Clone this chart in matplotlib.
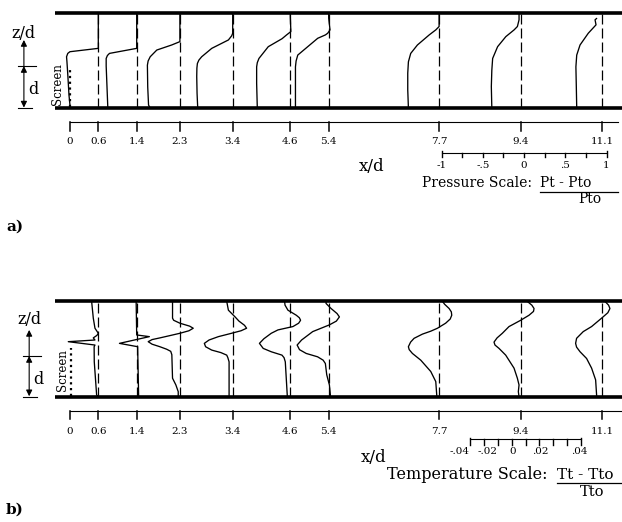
import numpy as np
import matplotlib as mpl
mpl.use('Agg')
import matplotlib.pyplot as plt

plt.rcParams['font.family'] = 'DejaVu Serif'

# ---------------- data ----------------
# measuring stations (x/d) and bottom axis labels
stations = [0.6, 1.4, 2.3, 3.4, 4.6, 5.4, 7.7, 9.4, 11.1]
tick_x = [0, 0.6, 1.4, 2.3, 3.4, 4.6, 5.4, 7.7, 9.4, 11.1]
tick_lab = ['0', '0.6', '1.4', '2.3', '3.4', '4.6', '5.4', '7.7', '9.4', '11.1']

# a) total pressure profiles (Pt - Pto)/Pto against z/d
p_z = [
    [0, 0.3, 0.8, 1.1, 1.22, 1.30, 1.34, 1.42, 2.27],
    [0, 0.5, 1.0, 1.18, 1.25, 1.30, 1.42, 2.27],
    [0, 0.07, 0.5, 1.02, 1.12, 1.22, 1.38, 1.5, 1.58, 2.27],
    [0, 0.35, 0.75, 0.95, 1.06, 1.14, 1.22, 1.42, 1.62, 1.72, 1.78, 2.27],
    [0, 0.59, 0.98, 1.08, 1.18, 1.46, 1.65, 1.74, 1.82, 2.17, 2.27],
    [0, 0.51, 0.98, 1.12, 1.26, 1.66, 1.74, 1.78, 1.86, 2.14, 2.27],
    [0, 0.43, 0.83, 1.1, 1.3, 1.5, 1.74, 1.86, 1.94, 2.27],
    [0, 0.51, 0.9, 1.18, 1.46, 1.7, 1.86, 1.94, 2.1, 2.27],
    [0, 0.51, 0.98, 1.26, 1.5, 1.78, 1.98, 2.1, 2.13],
]
p_v = [
    [-0.34, -0.355, -0.37, -0.38, -0.385, -0.37, -0.344, 0, 0],
    [-0.35, -0.36, -0.37, -0.37, -0.355, -0.33, 0, 0],
    [-0.36, -0.38, -0.39, -0.394, -0.385, -0.36, -0.28, -0.1, 0, 0],
    [-0.424, -0.432, -0.436, -0.434, -0.428, -0.41, -0.376, -0.254, -0.052, -0.012, 0, 0],
    [-0.40, -0.408, -0.408, -0.40, -0.38, -0.267, -0.1, -0.045, 0.007, 0, 0],
    [-0.403, -0.403, -0.403, -0.395, -0.375, -0.133, -0.04, -0.012, 0.016, 0, 0],
    [-0.372, -0.38, -0.38, -0.372, -0.344, -0.263, -0.12, -0.04, 0, 0],
    [-0.35, -0.356, -0.35, -0.34, -0.28, -0.18, -0.08, -0.04, -0.02, -0.02],
    [-0.31, -0.315, -0.32, -0.31, -0.27, -0.17, -0.076, -0.088, -0.07],
]

# b) total temperature profiles (Tt - Tto)/Tto against z/d
t_z = [
    [0, 0.04, 0.83, 1.19, 1.23, 1.31, 1.35, 1.40, 1.46, 1.51, 1.63, 1.87, 2.27],
    [0, 1.15, 1.19, 1.27, 1.43, 1.47, 2.27],
    [0, 0.12, 0.28, 0.44, 1.0, 1.08, 1.13, 1.19, 1.25, 1.31, 1.36, 1.40, 1.46, 1.51,
     1.57, 1.63, 1.68, 1.75, 1.82, 1.87, 2.27],
    [0, 0.83, 0.93, 0.99, 1.05, 1.11, 1.19, 1.27, 1.35, 1.43, 1.50, 1.57, 1.63, 1.70,
     1.80, 1.90, 2.06, 2.27],
    [0, 0.04, 0.83, 0.93, 0.99, 1.07, 1.15, 1.27, 1.38, 1.51, 1.59, 1.67, 1.75, 1.82,
     1.88, 1.94, 2.06, 2.18, 2.27],
    [0, 0.04, 0.28, 0.52, 0.79, 0.87, 0.95, 1.03, 1.12, 1.23, 1.35, 1.45, 1.55, 1.63,
     1.71, 1.80, 1.90, 1.98, 2.10, 2.22, 2.27],
    [0, 0.04, 0.36, 0.60, 0.87, 1.03, 1.12, 1.19, 1.30, 1.39, 1.49, 1.56, 1.63, 1.75,
     1.85, 1.94, 2.02, 2.10, 2.20, 2.27],
    [0, 0.12, 0.28, 0.44, 0.68, 0.99, 1.15, 1.23, 1.30, 1.40, 1.51, 1.67, 1.82, 1.94,
     2.03, 2.10, 2.18, 2.27],
    [0, 0.04, 0.40, 0.68, 0.91, 1.07, 1.18, 1.27, 1.39, 1.55, 1.67, 1.87, 2.0, 2.10,
     2.18, 2.27],
]
t_v = [
    [0, -0.0012, -0.0029, -0.003, -0.0024, -0.0216, -0.0024, -0.0036, -0.001, 0, -0.0024,
     -0.0036, -0.0048],
    [0.0014, 0.0007, 0.0007, -0.0124, 0.0091, 0, -0.0004],
    [-0.0012, -0.0012, -0.0029, -0.0053, -0.0058, -0.0066, -0.0095, -0.0144, -0.0200,
     -0.0228, -0.0200, -0.0144, -0.0065, 0.0, 0.0065, 0.0096, 0.0070, 0.0, -0.0045,
     -0.0053, -0.0053],
    [-0.0026, -0.0026, -0.0035, -0.0043, -0.0085, -0.0151, -0.0195, -0.0204, -0.0170,
     -0.0103, -0.0020, 0.0060, 0.0100, 0.0085, 0.0045, 0.0017, -0.0031, -0.0043],
    [-0.0022, -0.0022, -0.0036, -0.0045, -0.0060, -0.0137, -0.0195, -0.0222, -0.0190,
     -0.0137, -0.0089, 0.0019, 0.0060, 0.0074, 0.0065, 0.0043, -0.0017, -0.0038, -0.0041],
    [0.0012, 0.0012, 0.0005, -0.0014, -0.0024, -0.0040, -0.0080, -0.0162, -0.0210, -0.0227,
     -0.0195, -0.0155, -0.0115, -0.0055, 0.0005, 0.0055, 0.0077, 0.0060, 0.0017, -0.0019,
     -0.0019],
    [-0.0017, -0.0017, -0.0024, -0.0060, -0.0132, -0.0192, -0.0215, -0.0221, -0.0205,
     -0.0180, -0.0120, -0.0060, -0.0012, 0.0047, 0.0080, 0.0091, 0.0088, 0.0072, 0.0040,
     0.0024],
    [-0.0012, -0.0017, -0.0012, -0.0024, -0.0048, -0.0108, -0.0156, -0.0185, -0.0192,
     -0.0170, -0.0132, -0.0084, 0.0, 0.0060, 0.0092, 0.0096, 0.0080, 0.0047],
    [-0.0041, -0.0041, -0.0048, -0.0077, -0.0113, -0.0160, -0.0185, -0.0192, -0.0185,
     -0.0137, -0.0077, -0.0005, 0.0040, 0.0055, 0.0045, 0.0019],
]

# scale bars
p_ticks = [-1, -0.75, -0.5, -0.25, 0, 0.25, 0.5, 0.75, 1]
p_lab_val = [-1, -0.5, 0, 0.5, 1]
p_lab = ['-1', '-.5', '0', '.5', '1']
t_ticks = [-0.04, -0.03, -0.02, -0.01, 0, 0.01, 0.02, 0.03, 0.04]
t_lab_val = [-0.04, -0.02, 0, 0.02, 0.04]
t_lab = ['-.04', '-.02', '0', '.02', '.04']

# ---------------- layout ----------------
H = 2.27                 # channel height, z/d
X0, XPX = 69.5, 48.      # pixel of x/d=0, pixels per x/d
ZPX = 42.                # pixels per z/d
p_scale = 82.5 / XPX     # x/d per unit of pressure ratio
t_scale = 1390. / XPX    # x/d per unit of temperature ratio
lw_wall, lw_prof, lw_thin = 2.6, 0.95, 0.8


def draw_panel(ax, zz, vv, vscale, lay):
    ax.set_xlim(-X0 / XPX, (622 - X0) / XPX)
    ax.set_ylim(lay['zlo'], lay['zhi'])
    ax.axis('off')

    # channel walls
    for zw in (0, H):
        ax.plot([lay['wall_x0'], 12], [zw, zw], '-', color='k', lw=lw_wall,
                solid_capstyle='butt', zorder=5)

    # screen
    ax.plot([lay['scr_x'], lay['scr_x']], [0.02, lay['scr_top']], color='k',
            lw=1.6, linestyle=(0, (1.0, 1.6)), zorder=3)
    ax.text(lay['scr_lab'][0], lay['scr_lab'][1], 'Screen', rotation=90,
            ha='center', va='center', fontsize=8.5)

    # reference lines and profiles
    for s, z, v in zip(stations, zz, vv):
        ax.plot([s, s], [0, H], color='k', lw=0.9, linestyle=(0, (8, 3.2)), zorder=2)
        ax.plot(s + np.asarray(v) * vscale, z, '-', color='k', lw=lw_prof, zorder=4,
                solid_joinstyle='round')

    # z/d and d markers
    xa = lay['arr_x']
    ax.annotate('', xy=(xa, lay['zd_top']), xytext=(xa, lay['zd_d']),
                arrowprops=dict(arrowstyle='-|>', lw=lw_thin, color='k',
                                mutation_scale=9, shrinkA=0, shrinkB=0))
    ax.annotate('', xy=(xa, 0.01), xytext=(xa, lay['zd_d']),
                arrowprops=dict(arrowstyle='<|-|>', lw=lw_thin, color='k',
                                mutation_scale=9, shrinkA=0, shrinkB=0))
    ax.plot([xa - 0.13, xa + 0.25], [lay['zd_d'], lay['zd_d']], color='k', lw=lw_thin)
    ax.plot([xa - 0.13, xa + 0.17], [0, 0], color='k', lw=lw_thin)
    ax.text(xa, lay['zd_lab'], 'z/d', ha='center', va='center', fontsize=11.5)
    ax.text(xa + 0.2, lay['d_lab'], 'd', ha='center', va='center', fontsize=11.5)

    # x/d axis below the channel
    za, zt = lay['ax_z'], lay['ax_tick']
    ax.plot([tick_x[0], lay['ax_x1']], [za, za], color='k', lw=lw_thin)
    for tx, tl in zip(tick_x, tick_lab):
        ax.plot([tx, tx], [za, zt], color='k', lw=1.1)
        ax.text(tx, lay['ax_lab'], tl, ha='center', va='center', fontsize=7.5)
    ax.text(lay['xd'][0], lay['xd'][1], 'x/d', ha='center', va='center', fontsize=12)


fig = plt.figure(figsize=(6.22, 5.22), dpi=100, facecolor='w')

# ---- a) pressure ----
ax_a = fig.add_axes([0, 0.5, 1, 0.5])
lay_a = dict(zlo=(108 - 261) / ZPX, zhi=108 / ZPX, wall_x0=-0.30,
             scr_x=0.02, scr_top=0.97, scr_lab=(-0.25, 0.58),
             arr_x=-0.95, zd_top=1.62, zd_d=1.0, zd_lab=1.78, d_lab=0.43,
             ax_z=-0.326, ax_tick=-0.55, ax_lab=-0.79, ax_x1=11.42,
             xd=(6.3, -1.40))
draw_panel(ax_a, p_z, p_v, p_scale, lay_a)

xc, zb = 9.47, -1.064
ax_a.plot([xc - p_scale, xc + p_scale], [zb, zb], color='k', lw=lw_thin)
for t in p_ticks:
    top = zb + 0.03 if abs(t) == 1 else zb
    ax_a.plot([xc + t * p_scale] * 2, [top, zb - 0.11], color='k', lw=1.0)
for t, tl in zip(p_lab_val, p_lab):
    ax_a.text(xc + t * p_scale, -1.36, tl, ha='center', va='center', fontsize=7.5)
ax_a.text(7.34, -1.786, 'Pressure Scale:', ha='left', va='center', fontsize=10)
ax_a.text(9.80, -1.786, 'Pt - Pto', ha='left', va='center', fontsize=10)
ax_a.plot([9.80, 11.42], [-1.99, -1.99], color='k', lw=0.9)
ax_a.text(10.84, -2.17, 'Pto', ha='center', va='center', fontsize=10)
ax_a.text(-1.14, -2.83, 'a)', ha='center', va='center', fontsize=11, fontweight='bold')

# ---- b) temperature ----
ax_b = fig.add_axes([0, 0, 1, 0.5])
zb0 = 396.7
lay_b = dict(zlo=(zb0 - 522) / ZPX, zhi=(zb0 - 261) / ZPX, wall_x0=-0.30,
             scr_x=0.03, scr_top=1.16, scr_lab=(-0.14, 0.64),
             arr_x=-0.84, zd_top=1.59, zd_d=0.97, zd_lab=1.83, d_lab=0.40,
             ax_z=-0.34, ax_tick=-0.53, ax_lab=-0.82, ax_x1=11.55,
             xd=(6.34, -1.44))
draw_panel(ax_b, t_z, t_v, t_scale, lay_b)

xc, zb = 9.50, -1.014
ax_b.plot([xc + t_ticks[0] * t_scale, xc + t_ticks[-1] * t_scale], [zb, zb], color='k', lw=lw_thin)
for t in t_ticks:
    top = zb + 0.03 if abs(t) > 0.035 else zb
    ax_b.plot([xc + t * t_scale] * 2, [top, zb - 0.13], color='k', lw=1.0)
t_lab_shift = [-0.0073, -0.0071, -0.0091, -0.0097, -0.001]
for t, tl, sh in zip(t_lab_val, t_lab, t_lab_shift):
    ax_b.text(xc + (t + sh) * t_scale, -1.31, tl, ha='center', va='center', fontsize=7.5)
ax_b.text(6.61, -1.864, 'Temperature Scale:', ha='left', va='center', fontsize=11.6)
ax_b.text(10.15, -1.864, 'Tt - Tto', ha='left', va='center', fontsize=11)
ax_b.plot([10.15, 12.0], [-2.055, -2.055], color='k', lw=0.9)
ax_b.text(10.88, -2.262, 'Tto', ha='center', va='center', fontsize=10.5)
ax_b.text(-1.14, -2.70, 'b)', ha='center', va='center', fontsize=11, fontweight='bold')

plt.savefig('out.png', dpi=100, facecolor='w')
plt.close(fig)
